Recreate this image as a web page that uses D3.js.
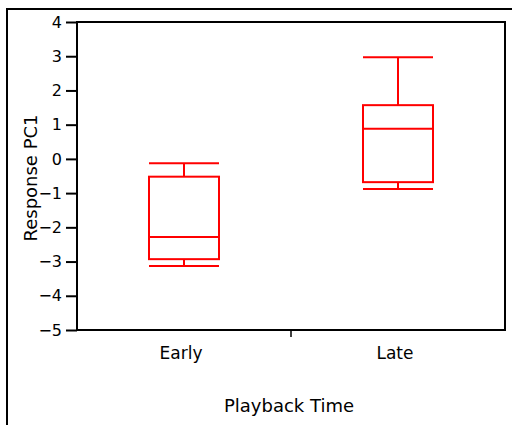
<!DOCTYPE html>
<html>
<head>
<meta charset="utf-8">
<script src="https://cdn.jsdelivr.net/npm/d3@7"></script>
<style>
  html, body { margin: 0; padding: 0; background: #fff; }
  svg { display: block; }
  text { font-family: "DejaVu Sans", sans-serif; fill: #000; }
</style>
</head>
<body>
<svg id="chart" width="512" height="425"></svg>
<script>
// Playback groups and their box summaries (Response PC1)
const groups = ["Early", "Late"];
const whiskerLow  = [-3.13, -0.88];
const q1          = [-2.93, -0.68];
const median      = [-2.28, 0.88];
const q3          = [-0.52, 1.57];
const whiskerHigh = [-0.13, 2.97];
const yTicks = [4, 3, 2, 1, 0, -1, -2, -3, -4, -5];

const svg = d3.select("#chart");
const plot = { left: 77, top: 22, right: 505, bottom: 330 };

// outer panel frame
svg.append("rect")
  .attr("x", 7).attr("y", 9).attr("width", 520).attr("height", 430)
  .attr("fill", "none").attr("stroke", "#000").attr("stroke-width", 2);

const y = d3.scaleLinear().domain([-5, 4]).range([plot.bottom, plot.top]);
const x = d3.scaleBand().domain(groups).range([plot.left, plot.right]);

// plot frame
svg.append("rect")
  .attr("x", plot.left).attr("y", plot.top)
  .attr("width", plot.right - plot.left).attr("height", plot.bottom - plot.top)
  .attr("fill", "none").attr("stroke", "#000").attr("stroke-width", 2);

// y axis
const yAxis = svg.append("g")
  .attr("transform", `translate(${plot.left},0)`)
  .call(d3.axisLeft(y).tickValues(yTicks).tickSize(11).tickPadding(4)
    .tickFormat(d => d < 0 ? "\u2212" + Math.abs(d) : d));
yAxis.select(".domain").remove();
yAxis.selectAll(".tick line").attr("stroke", "#000").attr("stroke-width", 2);
yAxis.selectAll(".tick text").style("font-size", "16px").style("font-family", "DejaVu Sans, sans-serif");

// x axis: single divider tick between groups, labels at band centres
svg.append("line")
  .attr("x1", (plot.left + plot.right) / 2).attr("x2", (plot.left + plot.right) / 2)
  .attr("y1", plot.bottom).attr("y2", plot.bottom + 7)
  .attr("stroke", "#000").attr("stroke-width", 1.5);
svg.selectAll(".xlabel").data(groups).enter().append("text")
  .attr("class", "xlabel")
  .attr("x", d => x(d) + x.bandwidth() / 2 - 3)
  .attr("y", 359)
  .attr("text-anchor", "middle")
  .style("font-size", "17px")
  .text(d => d);

// axis titles
svg.append("text")
  .attr("x", 289).attr("y", 412)
  .attr("text-anchor", "middle")
  .style("font-size", "18px")
  .text("Playback Time");
svg.append("text")
  .attr("transform", `translate(37,178) rotate(-90)`)
  .attr("text-anchor", "middle")
  .style("font-size", "18px")
  .text("Response PC1");

// box plots
const boxW = 70;
const red = "#ff0000";
groups.forEach((g, i) => {
  const cx = x(g) + x.bandwidth() / 2;
  const x0 = cx - boxW / 2, x1 = cx + boxW / 2;
  const gg = svg.append("g").attr("stroke", red).attr("stroke-width", 2).attr("fill", "none");
  gg.append("line").attr("x1", cx).attr("x2", cx).attr("y1", y(whiskerHigh[i])).attr("y2", y(q3[i]));
  gg.append("line").attr("x1", cx).attr("x2", cx).attr("y1", y(q1[i])).attr("y2", y(whiskerLow[i]));
  gg.append("line").attr("x1", x0).attr("x2", x1).attr("y1", y(whiskerHigh[i])).attr("y2", y(whiskerHigh[i]));
  gg.append("line").attr("x1", x0).attr("x2", x1).attr("y1", y(whiskerLow[i])).attr("y2", y(whiskerLow[i]));
  gg.append("rect").attr("x", x0).attr("y", y(q3[i])).attr("width", boxW).attr("height", y(q1[i]) - y(q3[i]));
  gg.append("line").attr("x1", x0).attr("x2", x1).attr("y1", y(median[i])).attr("y2", y(median[i]));
});
</script>
</body>
</html>
